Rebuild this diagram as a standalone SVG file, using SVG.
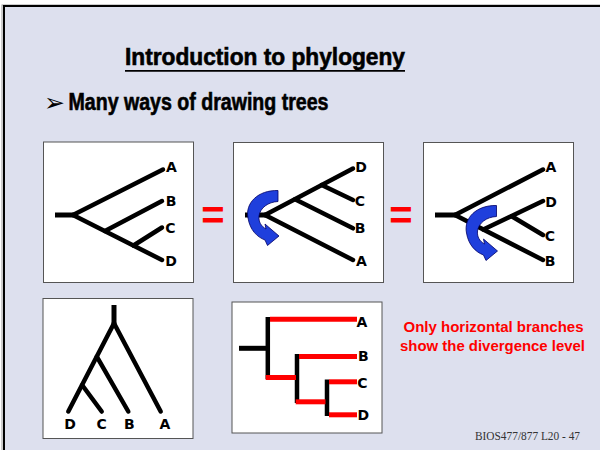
<svg xmlns="http://www.w3.org/2000/svg" width="600" height="450" viewBox="0 0 600 450">
<style>
.panel{fill:#ffffff;stroke:#555555;stroke-width:1}
.br{fill:none;stroke:#000000;stroke-width:4.5;stroke-linecap:round}
.stub{fill:none;stroke:#000000;stroke-width:5;stroke-linecap:butt}
.vb{fill:none;stroke:#000000;stroke-width:4.5;stroke-linecap:butt}
.rb{fill:none;stroke:#ff0000;stroke-width:5;stroke-linecap:butt}
.lbl{font-family:"DejaVu Sans",sans-serif;font-weight:bold;font-size:14px;fill:#000000;text-anchor:middle}
.eq{font-family:"Liberation Sans",Arial,sans-serif;font-weight:bold;font-size:40px;fill:#ff0000;text-anchor:middle}
.note{font-family:"Liberation Sans",Arial,sans-serif;font-weight:bold;font-size:15px;fill:#ff0000}
.head{font-family:"Liberation Sans Narrow","Liberation Sans",Arial,sans-serif;font-weight:bold;font-size:23px;fill:#000000;stroke:#000000;stroke-width:0.6}
.arrow{fill:#1f3fdc;stroke:#000066;stroke-width:0.8;stroke-linejoin:round}
</style>
<defs>
<path id="curl" class="arrow" d="M278,190.5 C258,190 245,203 248,218 C250,230 257,237 265,240 L267.5,245.5 L279,236 L265,224 L266,229 C261,226 258.5,222 259,216 C260,208 268,202 278,201.5 Z"/>
</defs>
<rect x="0" y="0" width="600" height="450" fill="#ffffff"/>
<rect x="2" y="5" width="610" height="460" fill="none" stroke="#999999" stroke-width="1"/>
<rect x="4" y="6" width="610" height="460" fill="#dde0ee" stroke="#000000" stroke-width="2"/>

<g id="title">
<text class="head" x="125" y="65" textLength="280" lengthAdjust="spacingAndGlyphs">Introduction to phylogeny</text>
<line x1="125" y1="70.8" x2="405" y2="70.8" stroke="#000000" stroke-width="1.8"/>
</g>
<g id="bullet">
<text x="44" y="111" font-family="'DejaVu Sans',sans-serif" font-size="25" fill="#000000">➢</text>
<text class="head" x="68.5" y="110" textLength="260" lengthAdjust="spacingAndGlyphs">Many ways of drawing trees</text>
</g>

<g id="tree1">
<rect class="panel" x="43.5" y="142" width="150" height="140.5"/>
<line class="stub" x1="55" y1="215" x2="74" y2="215"/>
<line class="br" x1="73" y1="215" x2="163" y2="169.5"/>
<line class="br" x1="73" y1="215" x2="162" y2="260"/>
<line class="br" x1="105" y1="231" x2="162" y2="201"/>
<line class="br" x1="133.5" y1="245.5" x2="162" y2="227.5"/>
<text class="lbl" x="171.5" y="172">A</text>
<text class="lbl" x="171" y="206">B</text>
<text class="lbl" x="170.5" y="232.5">C</text>
<text class="lbl" x="171" y="266">D</text>
</g>

<g id="eq1"><text class="eq" x="213" y="229">=</text></g>

<g id="tree2">
<rect class="panel" x="233.5" y="142.5" width="150" height="140"/>
<line class="stub" x1="245" y1="215" x2="266" y2="215"/>
<line class="br" x1="265" y1="215" x2="353" y2="260"/>
<line class="br" x1="265" y1="215" x2="353" y2="168.5"/>
<line class="br" x1="295" y1="199.3" x2="353" y2="228.3"/>
<line class="br" x1="321.7" y1="185" x2="353" y2="200"/>
<use href="#curl"/>
<text class="lbl" x="361" y="172">D</text>
<text class="lbl" x="360" y="205.5">C</text>
<text class="lbl" x="360" y="232.5">B</text>
<text class="lbl" x="361.5" y="266">A</text>
</g>

<g id="eq2"><text class="eq" x="401" y="229">=</text></g>

<g id="tree3">
<rect class="panel" x="423.5" y="142.5" width="150" height="140"/>
<line class="stub" x1="435" y1="215" x2="456" y2="215"/>
<line class="br" x1="455" y1="215" x2="543" y2="169.5"/>
<line class="br" x1="455" y1="215" x2="543" y2="260"/>
<line class="br" x1="483.3" y1="229.5" x2="543" y2="201"/>
<line class="br" x1="511.7" y1="216.3" x2="543" y2="235"/>
<use href="#curl" transform="translate(218.5,15)"/>
<text class="lbl" x="551" y="172">A</text>
<text class="lbl" x="551" y="206.5">D</text>
<text class="lbl" x="550" y="240.5">C</text>
<text class="lbl" x="550" y="266">B</text>
</g>

<g id="tree4">
<rect class="panel" x="43" y="298.5" width="150" height="140"/>
<line class="stub" x1="114" y1="305" x2="114" y2="324"/>
<line class="br" x1="114" y1="323.3" x2="68.3" y2="411.5"/>
<line class="br" x1="114" y1="323.3" x2="160.7" y2="411.5"/>
<line class="br" x1="96.8" y1="356.7" x2="128.3" y2="411.5"/>
<line class="br" x1="82.1" y1="385" x2="101.7" y2="411.5"/>
<text class="lbl" x="70" y="428.5">D</text>
<text class="lbl" x="101.7" y="428.5">C</text>
<text class="lbl" x="129.3" y="428.5">B</text>
<text class="lbl" x="165" y="428.5">A</text>
</g>

<g id="tree5">
<rect class="panel" x="232" y="302" width="150" height="131"/>
<line class="stub" x1="239" y1="348.3" x2="267" y2="348.3"/>
<line class="vb" x1="267.8" y1="317" x2="267.8" y2="379"/>
<line class="vb" x1="297" y1="354" x2="297" y2="403"/>
<line class="vb" x1="327" y1="379.5" x2="327" y2="416"/>
<line class="rb" x1="270" y1="319.2" x2="357" y2="319.2"/>
<line class="rb" x1="265.7" y1="377.5" x2="296" y2="377.5"/>
<line class="rb" x1="299" y1="356.5" x2="357" y2="356.5"/>
<line class="rb" x1="295.7" y1="401.8" x2="325.5" y2="401.8"/>
<line class="rb" x1="329" y1="381.8" x2="357" y2="381.8"/>
<line class="rb" x1="329" y1="414.8" x2="357" y2="414.8"/>
<text class="lbl" x="362" y="327">A</text>
<text class="lbl" x="363.3" y="360.5">B</text>
<text class="lbl" x="362.3" y="387.5">C</text>
<text class="lbl" x="363.3" y="420">D</text>
</g>

<g id="note">
<text class="note" x="403.5" y="332" textLength="180" lengthAdjust="spacingAndGlyphs">Only horizontal branches</text>
<text class="note" x="400" y="351" textLength="185" lengthAdjust="spacingAndGlyphs">show the divergence level</text>
</g>

<g id="footer">
<text x="475" y="439.5" font-family="'Liberation Serif','Times New Roman',serif" font-size="11.5" fill="#333333" textLength="105" lengthAdjust="spacingAndGlyphs">BIOS477/877 L20 - 47</text>
</g>
</svg>
